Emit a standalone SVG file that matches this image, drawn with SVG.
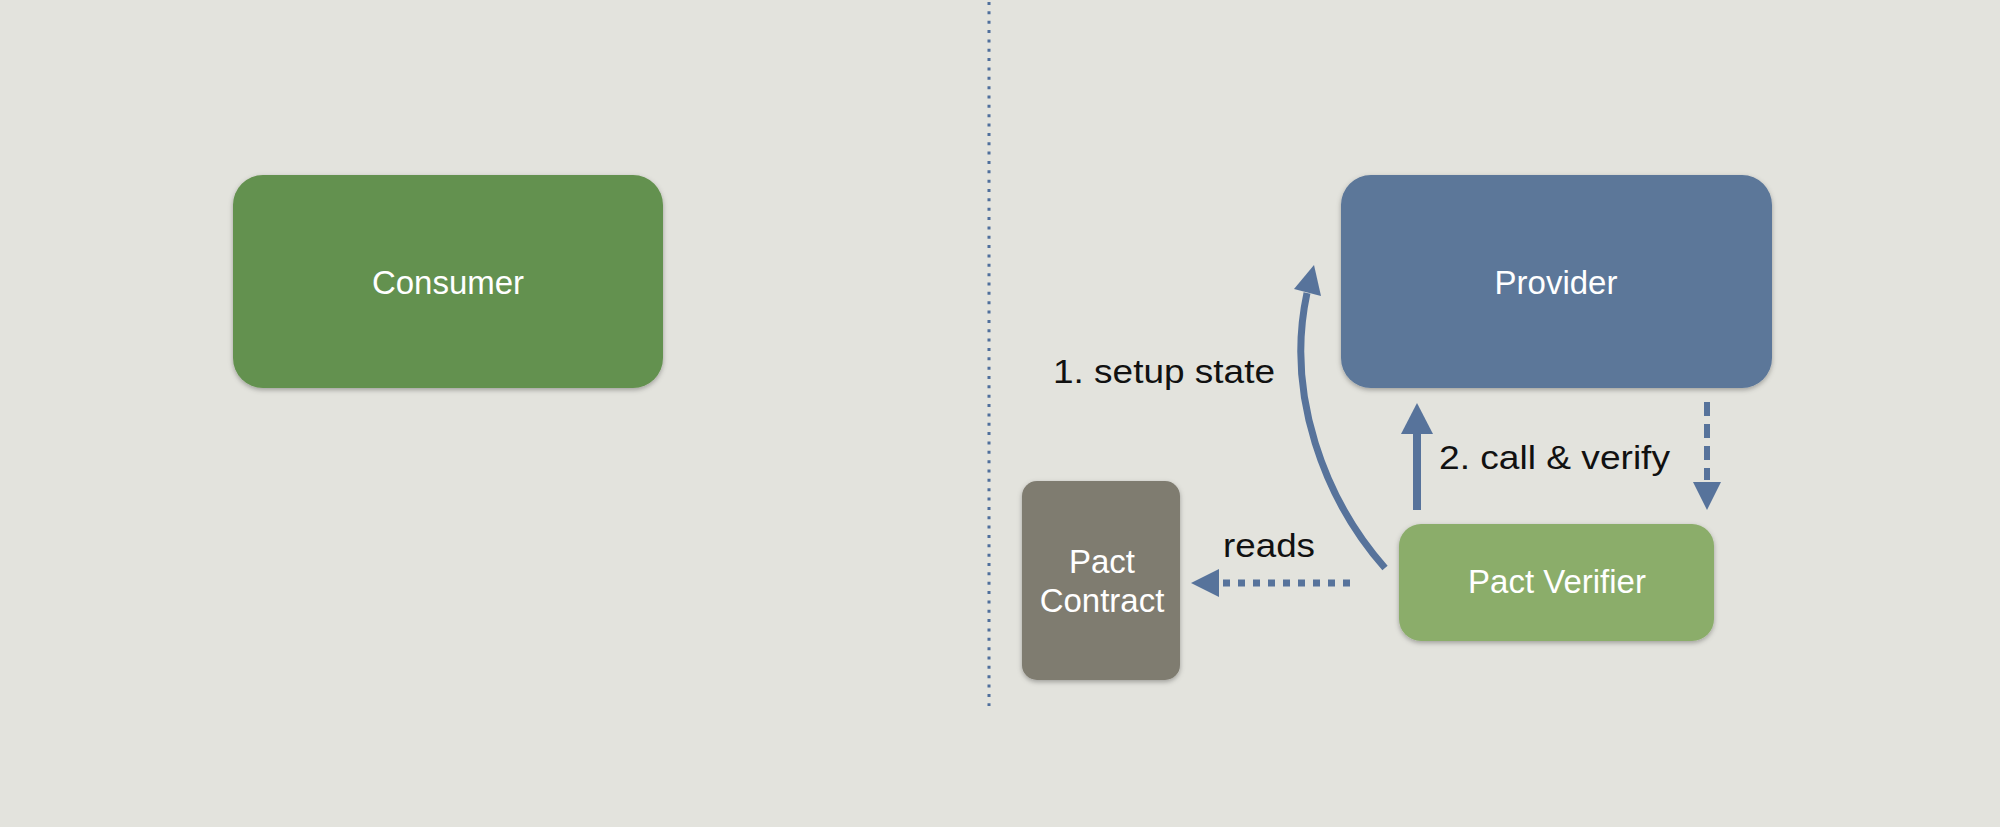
<svg xmlns="http://www.w3.org/2000/svg" width="2000" height="827" viewBox="0 0 2000 827">
<defs>
<filter id="sh" x="-10%" y="-10%" width="120%" height="125%">
<feDropShadow dx="0" dy="2" stdDeviation="2.5" flood-color="#000" flood-opacity="0.3"/>
</filter>
</defs>
<style>
.box{filter:url(#sh)}
.wt{font-family:"Liberation Sans",Arial,sans-serif;font-size:33px;fill:#ffffff;text-anchor:middle}
.bt{font-family:"Liberation Sans",Arial,sans-serif;font-size:33px;fill:#111111}
.ln{fill:none;stroke:#57739b}
.ah{fill:#57739b}
</style>
<rect x="0" y="0" width="2000" height="827" fill="#e3e3dd"/>
<g id="divider">
<line x1="989" y1="2" x2="989" y2="706" stroke="#4f6f9c" stroke-width="3" stroke-dasharray="3 6.35"/>
</g>
<g id="consumer">
<rect class="box" x="233" y="175" width="430" height="213" rx="30" fill="#64914f"/>
<text class="wt" x="448" y="294">Consumer</text>
</g>
<g id="provider">
<rect class="box" x="1341" y="175" width="431" height="213" rx="30" fill="#5b7799"/>
<text class="wt" x="1556" y="294">Provider</text>
</g>
<g id="pact-contract">
<rect class="box" x="1022" y="481" width="158" height="199" rx="15" fill="#7f7c70"/>
<text class="wt" x="1102" y="573">Pact</text>
<text class="wt" x="1102" y="612">Contract</text>
</g>
<g id="pact-verifier">
<rect class="box" x="1399" y="524" width="315" height="117" rx="22" fill="#8bad6b"/>
<text class="wt" x="1557" y="593">Pact Verifier</text>
</g>
<g id="connectors">
<path class="ln" d="M1385,568 C1325,500 1285,395 1307,293" stroke-width="7"/>
<polygon class="ah" points="1314,265 1294,289 1321,296"/>
<line class="ln" x1="1417" y1="510" x2="1417" y2="432" stroke-width="8"/>
<polygon class="ah" points="1417,403 1401,434 1433,434"/>
<line class="ln" x1="1707" y1="402" x2="1707" y2="480" stroke-width="6" stroke-dasharray="14 8"/>
<polygon class="ah" points="1707,510 1693,482 1721,482"/>
<line class="ln" x1="1350" y1="583" x2="1222" y2="583" stroke-width="7" stroke-dasharray="7 8"/>
<polygon class="ah" points="1191,583 1219,569 1219,597"/>
</g>
<g id="labels">
<text class="bt" x="1053" y="383" textLength="222" lengthAdjust="spacingAndGlyphs">1. setup state</text>
<text class="bt" x="1439" y="469" textLength="231" lengthAdjust="spacingAndGlyphs">2. call &amp; verify</text>
<text class="bt" x="1223" y="557" textLength="92" lengthAdjust="spacingAndGlyphs">reads</text>
</g>
</svg>
